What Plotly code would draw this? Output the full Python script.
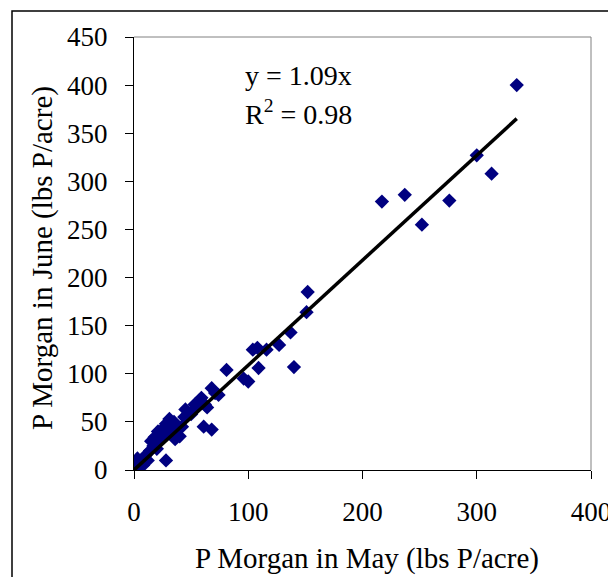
import plotly.graph_objects as go

may = [0.5, 1, 3, 4, 6, 8, 10, 12, 14, 15, 17, 18, 20, 21, 22, 24, 25, 27, 28, 28, 30, 31, 33, 35, 36, 38, 40, 42, 44, 45,
       50, 53, 55, 58, 59, 61, 62, 64, 68, 68, 71, 74, 81, 96, 100, 104, 108, 109, 116, 127, 137, 140, 151, 152,
       217, 237, 252, 276, 300, 313, 335]
june = [2, 6, 12, 3, 9, 5, 15, 10, 20, 30, 25, 34, 22, 40, 30, 38, 35, 45, 48, 10, 42, 53, 40, 50, 32, 45, 35, 45, 55, 63,
        58, 68, 65, 72, 75, 45, 68, 65, 42, 85, 80, 78, 104, 95, 92, 125, 127, 106, 125, 130, 143, 107, 164, 185,
        279, 286, 255, 280, 327, 308, 400]

slope = 1.09
fit_x = [0, 335]
fit_y = [slope * v for v in fit_x]

x_ticks = [0, 100, 200, 300, 400]
y_ticks = [0, 50, 100, 150, 200, 250, 300, 350, 400, 450]

font = "Liberation Serif, Times New Roman, serif"
L, R, T, B = 134, 591, 37, 470
W, H = R - L, B - T


def px(xp):
    return (xp - L) / W


def py(yp):
    return (B - yp) / H


fig = go.Figure()
fig.add_trace(go.Scatter(x=may, y=june, mode="markers",
                         marker=dict(symbol="diamond", size=11, color="#000080",
                                     line=dict(width=0)),
                         hoverinfo="x+y", showlegend=False))
fig.add_trace(go.Scatter(x=fit_x, y=fit_y, mode="lines",
                         line=dict(color="black", width=3.5),
                         showlegend=False, hoverinfo="skip"))

fig.update_layout(
    width=608, height=577,
    margin=dict(l=L, r=608 - R, t=T, b=577 - B, pad=0, autoexpand=False),
    paper_bgcolor="white", plot_bgcolor="white",
    font=dict(family=font, size=27, color="black"),
    xaxis=dict(range=[0, 400], tickvals=x_ticks, ticks="outside", ticklen=8,
               tickcolor="black", showline=True, linecolor="black", linewidth=1,
               showgrid=False, zeroline=False, ticklabelstandoff=10,
               ticklabeloverflow="allow", automargin=False,
               tickfont=dict(family=font, size=27)),
    yaxis=dict(range=[0, 450], tickvals=y_ticks, ticks="outside", ticklen=8,
               tickcolor="black", showline=True, linecolor="black", linewidth=1,
               showgrid=False, zeroline=False, ticklabelstandoff=12,
               ticklabeloverflow="allow", automargin=False,
               tickfont=dict(family=font, size=27)),
    shapes=[
        dict(type="line", xref="paper", yref="paper", x0=0, x1=1, y0=1, y1=1,
             line=dict(color="gray", width=1)),
        dict(type="line", xref="paper", yref="paper", x0=1, x1=1, y0=0, y1=1,
             line=dict(color="gray", width=1)),
        dict(type="rect", xref="paper", yref="paper", x0=px(12), x1=px(640),
             y0=py(640), y1=py(11),
             line=dict(color="black", width=1.5), layer="below"),
    ],
    annotations=[
        dict(text="P Morgan in May (lbs P/acre)", xref="paper", yref="paper",
             x=px(367), y=py(558), showarrow=False, font=dict(family=font, size=29),
             xanchor="center", yanchor="middle"),
        dict(text="P Morgan in June (lbs P/acre)", xref="paper", yref="paper",
             x=px(42), y=py(258), showarrow=False, textangle=-90,
             font=dict(family=font, size=29), xanchor="center", yanchor="middle"),
        dict(text="y = 1.09x", xref="paper", yref="paper",
             x=px(243), y=py(76), showarrow=False,
             xanchor="left", yanchor="middle", font=dict(family=font, size=28)),
        dict(text="R<sup>2</sup> = 0.98", xref="paper", yref="paper",
             x=px(243), y=py(112), showarrow=False,
             xanchor="left", yanchor="middle", font=dict(family=font, size=28)),
    ],
)

fig.write_html("out.html", config={"displayModeBar": False},
               post_script="document.body.style.margin='0';document.body.style.overflow='hidden';")
